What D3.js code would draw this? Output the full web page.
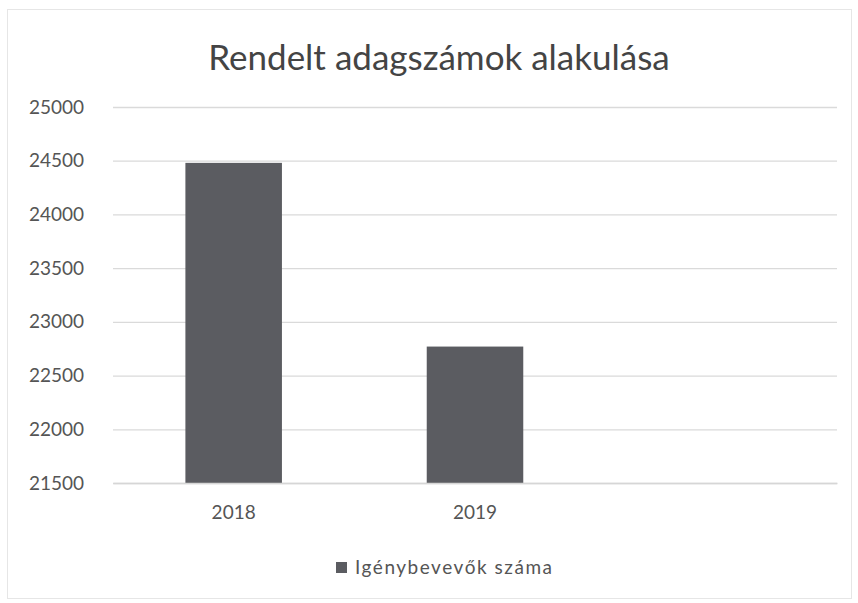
<!DOCTYPE html>
<html><head><meta charset="utf-8">
<script src="https://cdn.jsdelivr.net/npm/d3@7"></script>
<style>body{margin:0;background:#fff}</style>
</head><body>
<svg id="c" width="858" height="603"></svg>
<script>
const title = "Rendelt adagszámok alakulása";
const categories = ["2018", "2019", ""];
const values = [24480, 22770, null];
const yTicks = [21500, 22000, 22500, 23000, 23500, 24000, 24500, 25000];
const seriesName = "Igénybevevők száma";

const svg = d3.select("#c");
const font = "Lato, 'Open Sans', sans-serif";
const m = {l: 113, r: 837, t: 107, b: 483};

svg.append("rect").attr("x", 7.5).attr("y", 9.5).attr("width", 844).attr("height", 589)
  .attr("fill", "#fff").attr("stroke", "#e6e6e6");

const x = d3.scaleBand().domain(categories.map((c,i)=>i)).range([m.l, m.r]).paddingInner(0.6).paddingOuter(0.3);
const y = d3.scaleLinear().domain([21500, 25000]).range([m.b, m.t]);

svg.append("text").attr("x", 439).attr("y", 70).attr("text-anchor", "middle")
  .attr("font-family", font).attr("font-size", 35).attr("fill", "#444").text(title);

const yAxis = svg.append("g").attr("transform", `translate(${m.l},0)`)
  .call(d3.axisLeft(y).tickValues(yTicks).tickSize(-(m.r - m.l)).tickPadding(29).tickFormat(d3.format("d")));
yAxis.select(".domain").remove();
yAxis.selectAll("line").attr("stroke", "#dadada").attr("stroke-width", 1.3);
yAxis.selectAll("text").attr("font-family", font).attr("font-size", 19).attr("fill", "#555");

svg.append("g").selectAll("rect").data(values.map((v,i)=>({v,i})).filter(d=>d.v!=null)).join("rect")
  .attr("x", d => x(d.i)).attr("width", x.bandwidth())
  .attr("y", d => y(d.v)).attr("height", d => y(21500) - y(d.v))
  .attr("fill", "#5b5c61");

const xAxis = svg.append("g").attr("transform", `translate(0,${m.b})`)
  .call(d3.axisBottom(x).tickSize(0).tickPadding(23).tickFormat(i => categories[i]));
xAxis.select(".domain").attr("stroke", "#d6d6d6").attr("stroke-width", 1.3);
xAxis.selectAll("text").attr("font-family", font).attr("font-size", 19).attr("fill", "#555");

const lg = svg.append("g");
lg.append("rect").attr("x", 336).attr("y", 562).attr("width", 11).attr("height", 11).attr("fill", "#5b5c61");
lg.append("text").attr("x", 355).attr("y", 574).attr("font-family", font).attr("font-size", 19)
  .attr("textLength", 197).attr("lengthAdjust", "spacing")
  .attr("fill", "#555").text(seriesName);
</script>
</body></html>
